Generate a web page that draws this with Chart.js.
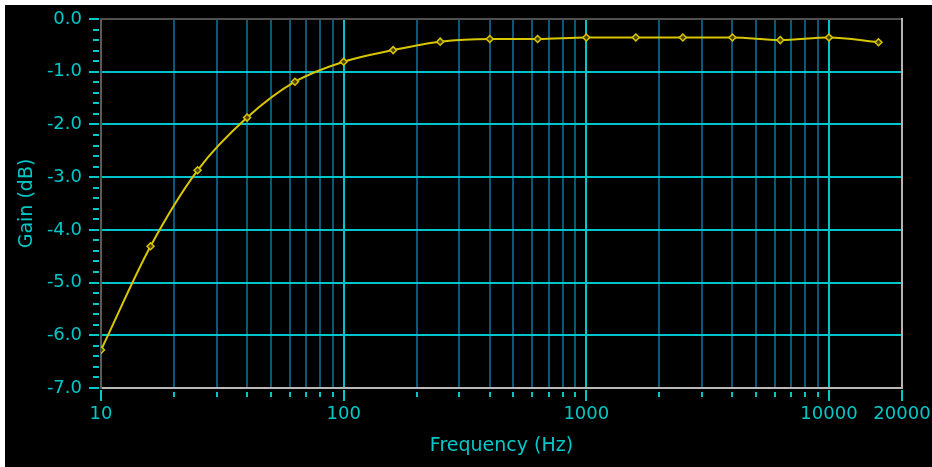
<!DOCTYPE html>
<html>
<head>
<meta charset="utf-8">
<script src="https://cdn.jsdelivr.net/npm/chart.js@4"></script>
<style>
  html, body { margin: 0; padding: 0; background: #ffffff; }
  #wrap { position: absolute; left: 5px; top: 5px; width: 927px; height: 462px; background: #000000; }
  canvas { display: block; }
</style>
</head>
<body>
<div id="wrap"><canvas id="c" width="927" height="462"></canvas></div>
<script>
// Frequency response: 1/3-decade measurement points
const frequencies = [10, 16, 25, 40, 63, 100, 160, 250, 400, 630, 1000, 1600, 2500, 4000, 6300, 10000, 16000];
const gainDb = [-6.28, -4.31, -2.87, -1.87, -1.19, -0.81, -0.59, -0.43, -0.38, -0.38, -0.35, -0.35, -0.35, -0.35, -0.40, -0.35, -0.44];

// Axis labelling
const freqTickLabels = [10, 100, 1000, 10000, 20000];
const freqDecadeLines = [100, 1000, 10000];
const freqMultipliers = [1, 2, 3, 4, 5, 6, 7, 8, 9];
const freqMin = 10;
const freqMax = 20000;
const gainMin = -7;
const gainMax = 0;
const gainMinorStep = 0.2;

const textColor = '#00c8c8';
const majorGrid = '#00c4cc';
const minorGrid = '#0a5878';
const traceColor = '#d8c600';
const fontFamily = '"DejaVu Sans", Verdana, sans-serif';

const isWhole = v => Math.abs(v - Math.round(v)) < 1e-6;

// 1..9 x each decade between the axis limits
function decadeTicks() {
  const out = [];
  for (let d = freqMin; d <= freqMax; d *= 10) {
    freqMultipliers.forEach(m => {
      const v = m * d;
      if (v >= freqMin && v <= freqMax) out.push({ value: v });
    });
  }
  if (out[out.length - 1].value !== freqMax) out.push({ value: freqMax });
  return out;
}

// Tick marks outside the plot frame plus the top/right frame edges
const axisTickMarks = {
  id: 'axisTickMarks',
  afterDraw(chart) {
    const { ctx, chartArea: a, scales: { x, y } } = chart;
    ctx.save();
    ctx.lineWidth = 2;
    ctx.strokeStyle = '#505050';
    ctx.beginPath();
    ctx.moveTo(a.left - 1, a.top);
    ctx.lineTo(a.right, a.top);
    ctx.stroke();
    ctx.strokeStyle = '#b4b4b4';
    ctx.beginPath();
    ctx.moveTo(a.right, a.top - 1);
    ctx.lineTo(a.right, a.bottom + 1);
    ctx.stroke();

    ctx.strokeStyle = textColor;
    y.ticks.forEach(t => {
      const py = Math.round(y.getPixelForValue(t.value));
      const major = isWhole(t.value);
      ctx.beginPath();
      ctx.moveTo(a.left - (major ? 12 : 8), py);
      ctx.lineTo(a.left - 2, py);
      ctx.stroke();
    });
    x.ticks.forEach(t => {
      const px = Math.round(x.getPixelForValue(t.value));
      const major = freqTickLabels.includes(Math.round(t.value));
      ctx.beginPath();
      ctx.moveTo(px, a.bottom + (major ? 2 : 4));
      ctx.lineTo(px, a.bottom + (major ? 13 : 9));
      ctx.stroke();
    });
    ctx.restore();
  }
};

new Chart(document.getElementById('c'), {
  type: 'line',
  data: {
    datasets: [{
      data: frequencies.map((f, i) => ({ x: f, y: gainDb[i] })),
      borderColor: traceColor,
      borderWidth: 2,
      cubicInterpolationMode: 'monotone',
      pointStyle: 'rectRot',
      pointRadius: 3.5,
      pointBorderWidth: 1.5,
      pointBorderColor: traceColor,
      pointBackgroundColor: '#4a4200'
    }]
  },
  options: {
    responsive: false,
    animation: false,
    devicePixelRatio: 1,
    layout: { padding: { top: 14, right: 30, left: 0, bottom: 0 } },
    plugins: { legend: { display: false }, tooltip: { enabled: false } },
    scales: {
      x: {
        type: 'logarithmic',
        min: freqMin,
        max: freqMax,
        afterBuildTicks(s) { s.ticks = decadeTicks(); },
        afterFit(s) { s.height = 79; s.paddingLeft = 0; s.paddingRight = 0; },
        grid: {
          drawTicks: false,
          lineWidth: 2,
          color: ctx => {
            const v = Math.round(ctx.tick ? ctx.tick.value : 0);
            if (v === freqMin || v === freqMax) return 'rgba(0,0,0,0)';
            return freqDecadeLines.includes(v) ? majorGrid : minorGrid;
          }
        },
        border: { color: '#b8b8b8', width: 2 },
        ticks: {
          autoSkip: false,
          maxRotation: 0,
          padding: 16,
          color: textColor,
          font: { family: fontFamily, size: 18 },
          callback: v => freqTickLabels.includes(Math.round(v)) ? String(Math.round(v)) : ''
        },
        title: {
          display: true,
          text: 'Frequency (Hz)',
          color: textColor,
          font: { family: fontFamily, size: 19 },
          padding: { top: 0, bottom: 10 }
        }
      },
      y: {
        min: gainMin,
        max: gainMax,
        afterFit(s) { s.width = 96; s.paddingTop = 0; s.paddingBottom = 0; },
        grid: {
          drawTicks: false,
          lineWidth: 2,
          color: ctx => {
            const v = ctx.tick ? ctx.tick.value : 0;
            const r = Math.round(v);
            return (isWhole(v) && r > gainMin && r < gainMax) ? majorGrid : 'rgba(0,0,0,0)';
          }
        },
        border: { color: '#5a5a5a', width: 2 },
        ticks: {
          stepSize: gainMinorStep,
          autoSkip: false,
          padding: 19,
          color: textColor,
          font: { family: fontFamily, size: 18 },
          callback: v => {
            if (!isWhole(v)) return '';
            const r = Math.round(v);
            return r === 0 ? '0.0' : r.toFixed(1);
          }
        },
        title: {
          display: true,
          text: 'Gain (dB)',
          color: textColor,
          font: { family: fontFamily, size: 19 },
          padding: { top: 11, bottom: 0 }
        }
      }
    }
  },
  plugins: [axisTickMarks]
});
</script>
</body>
</html>
